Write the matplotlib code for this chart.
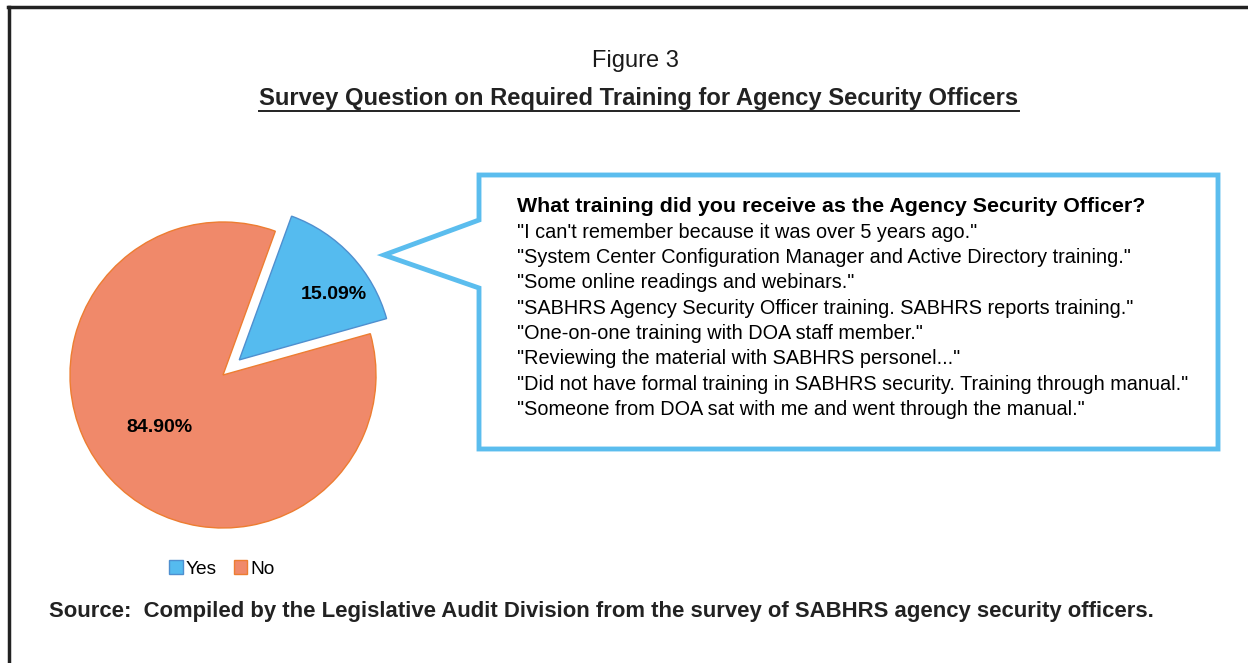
import numpy as np
import matplotlib.pyplot as plt
from matplotlib.patches import Polygon
from matplotlib.lines import Line2D

# data
labels = ["Yes", "No"]
shares = [15.09, 84.90]
pct_text = ["15.09%", "84.90%"]
colors = ["#55BBEF", "#F0896A"]
edges = ["#4F8FCF", "#ED7D31"]

question = "What training did you receive as the Agency Security Officer?"
answers = [
    '"I can\'t remember because it was over 5 years ago."',
    '"System Center Configuration Manager and Active Directory training."',
    '"Some online readings and webinars."',
    '"SABHRS Agency Security Officer training. SABHRS reports training."',
    '"One-on-one training with DOA staff member."',
    '"Reviewing the material with SABHRS personel..."',
    '"Did not have formal training in SABHRS security. Training through manual."',
    '"Someone from DOA sat with me and went through the manual."',
]

W, H = 1248, 663
fig = plt.figure(figsize=(W / 100, H / 100), dpi=100)
plt.rcParams['font.family'] = ['Liberation Sans', 'DejaVu Sans']


def fx(x):
    return x / W


def fy(y):
    return 1 - y / H


# outer frame (left and top only)
fig.add_artist(Line2D([fx(9), fx(9)], [fy(7), fy(663)], color="#222222", lw=2.5))
fig.add_artist(Line2D([fx(8), fx(1248)], [fy(7), fy(7)], color="#222222", lw=2.5))

# titles
fig.text(fx(635), fy(61), "Figure 3", ha="center", va="center", fontsize=17, color="#1a1a1a")
t = fig.text(fx(639), fy(98), "Survey Question on Required Training for Agency Security Officers",
             ha="center", va="center", fontsize=17.1, fontweight="bold", color="#222222")
fig.canvas.draw()
bb = t.get_window_extent().transformed(fig.transFigure.inverted())
fig.add_artist(Line2D([bb.x0, bb.x1], [fy(111), fy(111)], color="#222222", lw=1.4))

# pie
R = 153
half = 1.3
ax = fig.add_axes([fx(223 - half * R), fy(375 + half * R), 2 * half * R / W, 2 * half * R / H])
wedges, _ = ax.pie(shares, colors=colors, startangle=70, counterclock=False,
                   explode=[0.145, 0], wedgeprops=dict(linewidth=1.0))
ax.set_xlim(-half, half)
ax.set_ylim(-half, half)
ax.set_aspect("equal")
ax.axis("off")
for w, ec in zip(wedges, edges):
    w.set_edgecolor(ec)

lab_dist = [0.75, 0.54]
lab_shift = [-8, -3]
for w, txt, d, s in zip(wedges, pct_text, lab_dist, lab_shift):
    ang = np.deg2rad((w.theta1 + w.theta2) / 2 + s)
    cx, cy = w.center
    ax.text(cx + d * np.cos(ang), cy + d * np.sin(ang), txt, ha="center", va="center",
            fontsize=14, fontweight="bold")

# legend
handles = [plt.Rectangle((0, 0), 1, 1, facecolor=c, edgecolor=e, lw=1) for c, e in zip(colors, edges)]
fig.legend(handles, labels, loc="center", bbox_to_anchor=(fx(222), fy(569)), ncol=2, frameon=False,
           fontsize=13.8, handlelength=0.7, handleheight=0.7, handletextpad=0.15, columnspacing=0.9)

# callout box
pts = [(479, 175), (1218, 175), (1218, 449), (479, 449), (479, 288), (384, 255), (479, 220)]
fig.add_artist(Polygon([(fx(x), fy(y)) for x, y in pts], closed=True, facecolor="white",
                       edgecolor="#5BBDEE", lw=3.5, joinstyle="miter"))
fig.text(fx(517), fy(206), question, ha="left", va="center", fontsize=15.4, fontweight="bold")
for i, a in enumerate(answers):
    fig.text(fx(517), fy(232 + 25.4 * i), a, ha="left", va="center", fontsize=14.3)

# source
fig.text(fx(49), fy(612), "Source:  Compiled by the Legislative Audit Division from the survey of SABHRS agency security officers.",
         ha="left", va="center", fontsize=15.9, fontweight="bold", color="#222222")

fig.savefig("out.png", dpi=100)
